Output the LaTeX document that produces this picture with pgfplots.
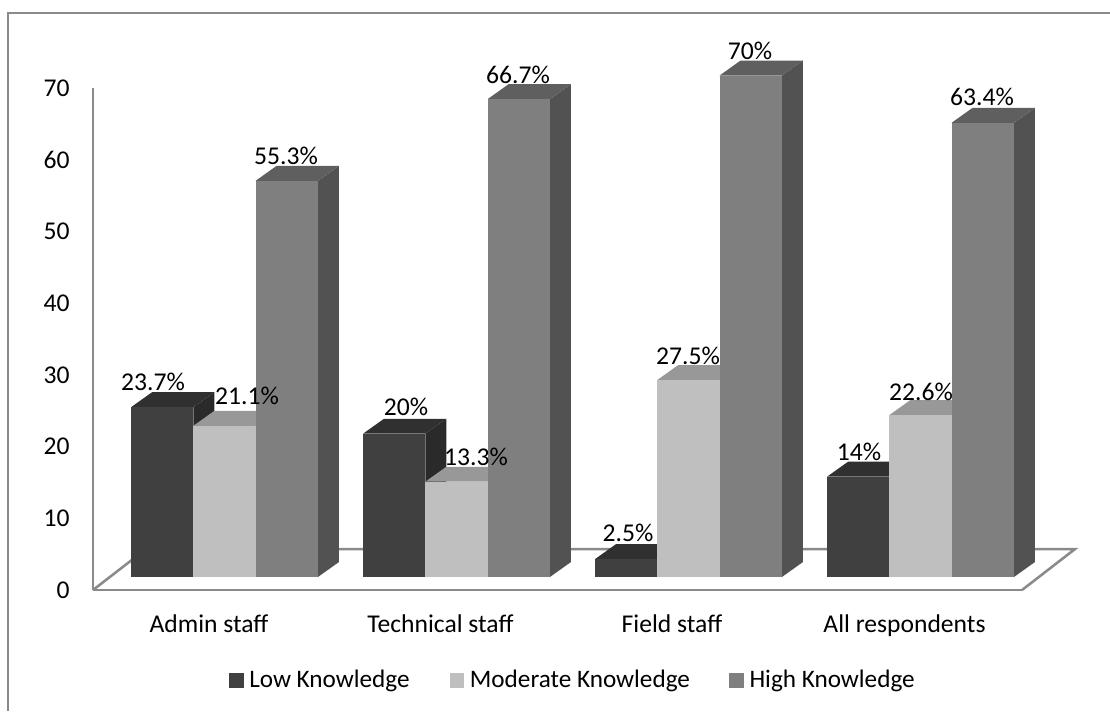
\documentclass[border=0pt]{standalone}
\usepackage{fontspec}
\setmainfont{Carlito}
\usepackage{pgfplots}
\pgfplotsset{compat=1.18}
\definecolor{lowF}{HTML}{404040}
\definecolor{lowT}{HTML}{303030}
\definecolor{lowS}{HTML}{2A2A2A}
\definecolor{modF}{HTML}{BFBFBF}
\definecolor{modT}{HTML}{989898}
\definecolor{modS}{HTML}{8E8E8E}
\definecolor{higF}{HTML}{7F7F7F}
\definecolor{higT}{HTML}{5F5F5F}
\definecolor{higS}{HTML}{525252}
\definecolor{axl}{HTML}{8A8A8A}
\newcommand{\chartfont}{\fontsize{19.2}{23}\selectfont}
\newcommand{\legfont}{\fontsize{18.9}{23}\selectfont}
% one 3-D bar: left x, value, colour prefix
\newcommand{\threedbar}[3]{%
  \pgfmathsetmacro{\xr}{#1+62.3}%
  \pgfmathsetmacro{\xlb}{#1+21}%
  \pgfmathsetmacro{\xrb}{#1+83.3}%
  \pgfmathsetmacro{\yb}{#2+2.09}%
  \addplot[forget plot,draw=none,fill=#3S] coordinates {(\xr,0) (\xrb,2.09) (\xrb,\yb) (\xr,#2)} --cycle;
  \addplot[forget plot,draw=none,fill=#3T] coordinates {(#1,#2) (\xlb,\yb) (\xrb,\yb) (\xr,#2)} --cycle;
  \addplot[forget plot,draw=none,fill=#3F] coordinates {(#1,0) (\xr,0) (\xr,#2) (#1,#2)} --cycle;
}
\begin{document}
\begin{tikzpicture}
\useasboundingbox (0pt,0pt) rectangle (832.5pt,533.25pt);
% back layer: value axis and front floor edge
\begin{axis}[
  at={(69.75pt,90.75pt)},anchor=south west,
  scale only axis,width=696.75pt,height=376.5pt,
  xmin=93,xmax=1022,ymin=0,ymax=70,
  axis x line*=bottom,axis y line*=left,
  axis line style={-,draw=axl,line width=1.9pt},
  ytick={0,10,...,70},
  xtick={209,440.5,672,904.5},
  xticklabels={Admin staff,Technical staff,Field staff,All respondents},
  major tick style={draw=none},
  tick label style={font=\chartfont},
  /pgf/number format/assume math mode=true,
  yticklabel style={xshift=-14pt},
  xticklabel style={yshift=-15pt},
  clip=false,
]
\addplot[draw=none,forget plot] coordinates {(93,0) (1022,70)};
\end{axis}
% main layer: floor, bars, labels, frame, legend
\begin{axis}[
  at={(0pt,0pt)},anchor=south west,
  scale only axis,width=832.5pt,height=533.25pt,
  xmin=0,xmax=1110,ymin=-18.70,ymax=80.54,
  hide axis,clip=false,
  legend columns=3,
  legend cell align=left,
  legend style={
    draw=none,fill=none,font=\legfont,
    at={(rel axis cs:0.2063,0.0436)},anchor=west,
    inner sep=0pt,outer sep=0pt,
    /tikz/column 1/.style={column sep=2.6pt},
    /tikz/column 2/.style={column sep=28pt},
    /tikz/column 3/.style={column sep=2.6pt},
    /tikz/column 4/.style={column sep=27.5pt},
    /tikz/column 5/.style={column sep=2.6pt},
  },
]
% frame
\addplot[forget plot,draw=axl,line width=1.1pt] coordinates {(8,-18.70) (8,78.73) (1110,78.73)};
% floor
\addplot[forget plot,draw=axl,line width=1.9pt] coordinates {(93,-1.815) (146,3.908) (1075,3.908) (1022,-1.815)};
% Admin staff
\threedbar{131}{23.7}{low}
\threedbar{193.3}{21.1}{mod}
\threedbar{255.6}{55.3}{hig}
% Technical staff
\threedbar{363}{20}{low}
\threedbar{425.3}{13.3}{mod}
\threedbar{487.6}{66.7}{hig}
% Field staff
\threedbar{595}{2.5}{low}
\threedbar{657.3}{27.5}{mod}
\threedbar{719.6}{70}{hig}
% All respondents
\threedbar{827}{14}{low}
\threedbar{889.3}{22.6}{mod}
\threedbar{951.6}{63.4}{hig}
% value labels
\addplot[forget plot,draw=none,mark=none,
  nodes near coords,point meta=explicit symbolic,
  every node near coord/.style={anchor=center,inner sep=0pt,font=\chartfont}]
 coordinates {
  (153,27.22) [23.7\%]
  (247,25.27) [21.1\%]
  (286,58.77) [55.3\%]
  (406,23.73) [20\%]
  (476,16.75) [13.3\%]
  (518,70.07) [66.7\%]
  (628,6.14)  [2.5\%]
  (688,30.85) [27.5\%]
  (750,73.42) [70\%]
  (859,17.45) [14\%]
  (921,25.82) [22.6\%]
  (982,67.0)  [63.4\%]
 };
\addlegendimage{legend image code/.code={\fill[lowF] (0pt,-5.2pt) rectangle (10.2pt,5.2pt);}}
\addlegendentry{Low Knowledge}
\addlegendimage{legend image code/.code={\fill[modF] (0pt,-5.2pt) rectangle (10.2pt,5.2pt);}}
\addlegendentry{Moderate Knowledge}
\addlegendimage{legend image code/.code={\fill[higF] (0pt,-5.2pt) rectangle (10.2pt,5.2pt);}}
\addlegendentry{High Knowledge}
\end{axis}
\end{tikzpicture}
\end{document}
